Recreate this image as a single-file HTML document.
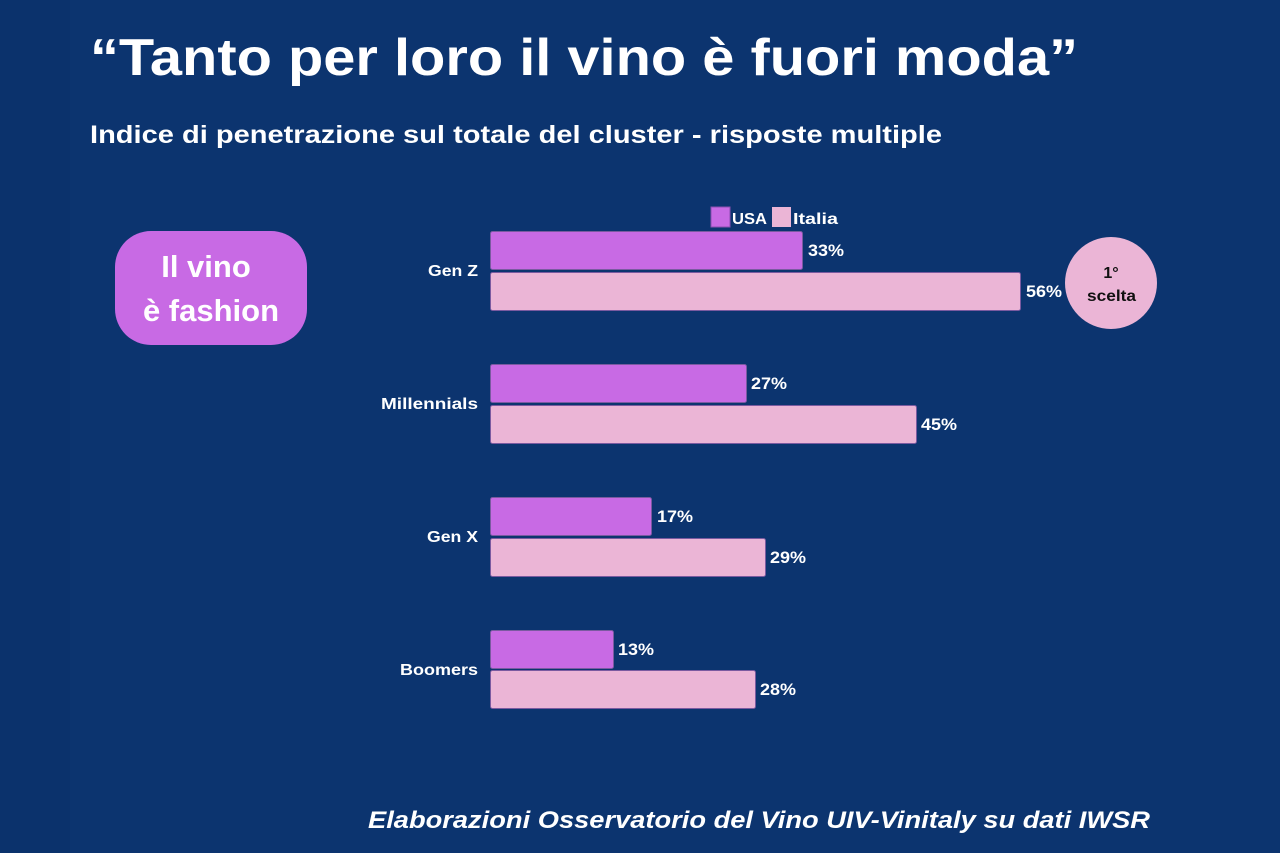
<!DOCTYPE html>
<html><head><meta charset="utf-8"><style>
html,body{margin:0;padding:0;background:#0c346f;}
svg{display:block}
text{font-family:"Liberation Sans",sans-serif;font-weight:bold;fill:#fff}
</style></head><body>
<svg width="1280" height="853" viewBox="0 0 1280 853">
<rect width="1280" height="853" fill="#0c346f"/>
<rect width="70" height="853" fill="#0b326c"/>
<text x="90" y="75" font-size="52" textLength="988" lengthAdjust="spacingAndGlyphs">“Tanto per loro il vino è fuori moda”</text>
<text x="90" y="143" font-size="25" textLength="852" lengthAdjust="spacingAndGlyphs">Indice di penetrazione sul totale del cluster - risposte multiple</text>
<text x="368" y="828" font-size="24" font-style="italic" textLength="782" lengthAdjust="spacingAndGlyphs">Elaborazioni Osservatorio del Vino UIV-Vinitaly su dati IWSR</text>

<rect x="115" y="231" width="192" height="114" rx="36" fill="#c86ae4"/>
<text x="206" y="277" font-size="31" text-anchor="middle">Il vino</text>
<text x="211" y="321" font-size="31" text-anchor="middle">è fashion</text>

<rect x="711" y="207" width="19" height="20" fill="#c86ae4" stroke="#8a4fb0" stroke-width="1"/>
<text x="732" y="224" font-size="16" textLength="35" lengthAdjust="spacingAndGlyphs">USA</text>
<rect x="772" y="207" width="19" height="20" fill="#ebb5d6"/>
<text x="793" y="224" font-size="16" textLength="45" lengthAdjust="spacingAndGlyphs">Italia</text>

<g stroke="#7a5aa0" stroke-width="1">
<rect x="490.5" y="231.5" width="312" height="38" rx="2" fill="#c86ae4"/>
<rect x="490.5" y="272.5" width="530" height="38" rx="2" fill="#ebb5d6"/>
<rect x="490.5" y="364.5" width="256" height="38" rx="2" fill="#c86ae4"/>
<rect x="490.5" y="405.5" width="426" height="38" rx="2" fill="#ebb5d6"/>
<rect x="490.5" y="497.5" width="161" height="38" rx="2" fill="#c86ae4"/>
<rect x="490.5" y="538.5" width="275" height="38" rx="2" fill="#ebb5d6"/>
<rect x="490.5" y="630.5" width="123" height="38" rx="2" fill="#c86ae4"/>
<rect x="490.5" y="670.5" width="265" height="38" rx="2" fill="#ebb5d6"/>
</g>
<g font-size="17">
<text x="808" y="256" textLength="36" lengthAdjust="spacingAndGlyphs">33%</text>
<text x="1026" y="297" textLength="36" lengthAdjust="spacingAndGlyphs">56%</text>
<text x="751" y="389" textLength="36" lengthAdjust="spacingAndGlyphs">27%</text>
<text x="921" y="430" textLength="36" lengthAdjust="spacingAndGlyphs">45%</text>
<text x="657" y="522" textLength="36" lengthAdjust="spacingAndGlyphs">17%</text>
<text x="770" y="563" textLength="36" lengthAdjust="spacingAndGlyphs">29%</text>
<text x="618" y="655" textLength="36" lengthAdjust="spacingAndGlyphs">13%</text>
<text x="760" y="695" textLength="36" lengthAdjust="spacingAndGlyphs">28%</text>
</g>
<g font-size="16">
<text x="428" y="276" textLength="50" lengthAdjust="spacingAndGlyphs">Gen Z</text>
<text x="381" y="409" textLength="97" lengthAdjust="spacingAndGlyphs">Millennials</text>
<text x="427" y="542" textLength="51" lengthAdjust="spacingAndGlyphs">Gen X</text>
<text x="400" y="675" textLength="78" lengthAdjust="spacingAndGlyphs">Boomers</text>
</g>
<circle cx="1111" cy="283" r="46" fill="#ebb5d6"/>
<text x="1111" y="278" font-size="16" text-anchor="middle" style="fill:#111">1°</text>
<text x="1087" y="301" font-size="16" style="fill:#111" textLength="49" lengthAdjust="spacingAndGlyphs">scelta</text>
</svg>
</body></html>
